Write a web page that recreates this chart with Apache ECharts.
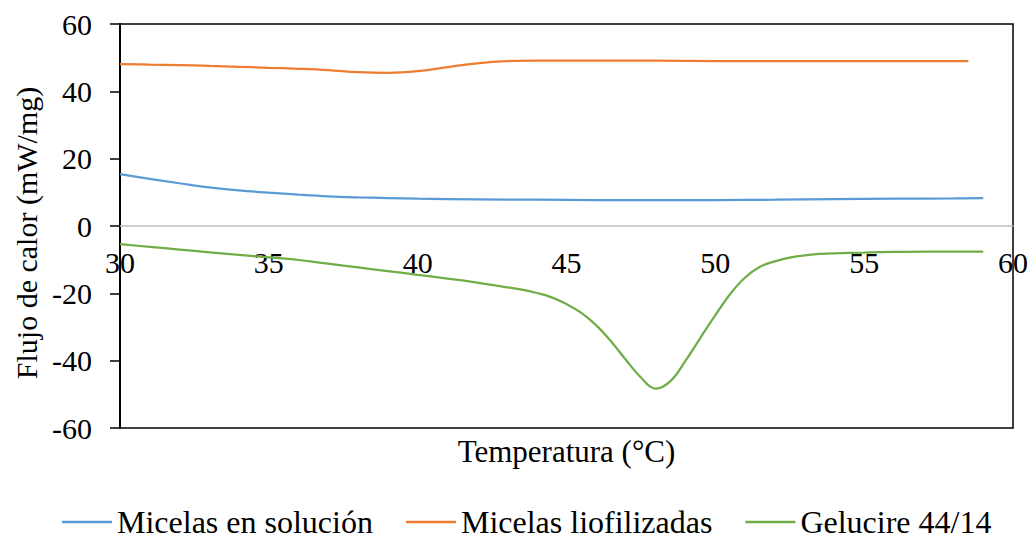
<!DOCTYPE html>
<html>
<head>
<meta charset="utf-8">
<script src="https://cdn.jsdelivr.net/npm/echarts@6/dist/echarts.min.js"></script>
<style>
  html, body { margin: 0; padding: 0; background: #fff; }
  #chart { width: 1032px; height: 539px; }
</style>
</head>
<body>
<div id="chart"></div>
<script>
// DSC thermograms: heat flow vs temperature
const seriesNames = ['Micelas en solución', 'Micelas liofilizadas', 'Gelucire 44/14'];

const tempSolucion = [30, 31, 32, 33, 34, 35, 36, 37, 38, 39, 40, 42, 44, 46, 48, 50, 52, 54, 56, 58, 59];
const flujoSolucion = [15.4, 14.0, 12.7, 11.5, 10.6, 9.9, 9.3, 8.8, 8.5, 8.3, 8.1, 7.9, 7.8, 7.7, 7.7, 7.7, 7.8, 8.0, 8.1, 8.2, 8.3];

const tempLiofilizadas = [30, 31, 32, 33, 34, 35, 36, 37, 38, 39, 40, 41, 42, 43, 44, 45, 46, 48, 50, 52, 54, 56, 58, 58.5];
const flujoLiofilizadas = [48.1, 47.95, 47.8, 47.55, 47.3, 47.0, 46.7, 46.3, 45.7, 45.5, 46.0, 47.2, 48.3, 49.0, 49.1, 49.1, 49.1, 49.1, 49.0, 49.0, 49.0, 49.0, 49.0, 49.0];

const tempGelucire = [30, 31, 32, 33, 34, 35, 36, 37, 38, 39, 40, 41, 42, 42.5, 43, 43.5, 44, 44.5, 45, 45.5, 46, 46.5, 47, 47.5, 48, 48.5, 49, 49.5, 50, 50.5, 51, 51.5, 52, 52.5, 53, 53.5, 54, 55, 56, 57, 58, 59];
const flujoGelucire = [-5.4, -6.2, -7.0, -7.8, -8.6, -9.3, -10.1, -11.2, -12.3, -13.4, -14.5, -15.6, -16.8, -17.5, -18.2, -18.9, -19.9, -21.2, -23.2, -25.8, -29.5, -34.3, -39.8, -45.0, -48.3, -46.0, -40.0, -33.2, -26.5, -20.2, -15.3, -12.1, -10.5, -9.4, -8.7, -8.3, -8.1, -7.9, -7.7, -7.6, -7.6, -7.6];

const xTicks = [30, 35, 40, 45, 50, 55, 60];
const yTicks = [-60, -40, -20, 0, 20, 40, 60];

const colors = ['#5B9BD5', '#ED7D31', '#70AD47'];
const FONT = "'Liberation Serif', 'Times New Roman', serif";

function pairs(xs, ys) { return xs.map((x, i) => [x, ys[i]]); }

const chart = echarts.init(document.getElementById('chart'), null, { renderer: 'svg' });

const lineSeries = [
  pairs(tempSolucion, flujoSolucion),
  pairs(tempLiofilizadas, flujoLiofilizadas),
  pairs(tempGelucire, flujoGelucire)
].map((data, i) => ({
  name: seriesNames[i],
  type: 'line',
  data: data,
  smooth: 0.4,
  symbol: 'none',
  lineStyle: { color: colors[i], width: 2.25 },
  itemStyle: { color: colors[i] }
}));

chart.setOption({
  animation: false,
  backgroundColor: '#fff',
  color: colors,
  textStyle: { fontFamily: FONT },
  grid: {
    left: 120, right: 19, top: 24, bottom: 111,
    containLabel: false,
    outerBoundsMode: 'none',
    show: true, borderColor: '#000', borderWidth: 1.5
  },
  xAxis: {
    type: 'value',
    min: xTicks[0], max: xTicks[xTicks.length - 1], interval: 5,
    name: 'Temperatura (°C)',
    nameLocation: 'middle',
    nameGap: 8,
    nameTextStyle: { fontFamily: FONT, fontSize: 31, color: '#000' },
    axisLine: { onZero: true, lineStyle: { color: '#BFBFBF', width: 1.5 } },
    axisTick: { show: false },
    splitLine: { show: false },
    axisLabel: {
      fontFamily: FONT, fontSize: 30, color: '#000',
      // tick labels sit just below the zero line, inside the plot
      margin: -181,
      showMinLabel: true, showMaxLabel: true,
      hideOverlap: false,
      formatter: v => String(v)
    }
  },
  yAxis: {
    type: 'value',
    min: yTicks[0], max: yTicks[yTicks.length - 1], interval: 20,
    name: 'Flujo de calor (mW/mg)',
    nameLocation: 'middle',
    nameGap: 75,
    nameRotate: 90,
    nameTextStyle: { fontFamily: FONT, fontSize: 30, color: '#000', padding: [0, 14, 0, 0] },
    axisLine: { show: true, lineStyle: { color: '#000', width: 2 } },
    axisTick: { show: true, inside: false, length: 10, lineStyle: { color: '#000', width: 1.5 } },
    splitLine: { show: false },
    axisLabel: {
      fontFamily: FONT, fontSize: 30, color: '#000', margin: 28,
      formatter: v => String(v)
    }
  },
  legend: {
    data: seriesNames,
    left: 57, top: 501,
    icon: 'rect',
    itemWidth: 50, itemHeight: 2.5, itemGap: 33,
    textStyle: { fontFamily: FONT, fontSize: 32, lineHeight: 32, color: '#000' }
  },
  series: lineSeries
});
</script>
</body>
</html>
